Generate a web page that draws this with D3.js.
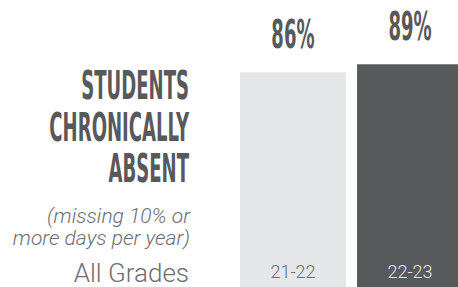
<!DOCTYPE html>
<html>
<head>
<meta charset="utf-8">
<script src="https://cdn.jsdelivr.net/npm/d3@7"></script>
<style>
	body { margin: 0; background: #fff; }
	svg { display: block; }
</style>
</head>
<body>
<script>
const years = ["21-22", "22-23"];
const absent = [86, 89];
const barColors = ["#e6e7e8", "#58595b"];
const yearColors = ["#6d6e71", "#e6e7e8"];
const titleLines = ["STUDENTS", "CHRONICALLY", "ABSENT"];
const noteLines = ["(missing 10% or", "more days per year)"];
const groupLabel = "All Grades";

const width = 458,
	height = 287;

const condensed = "'Liberation Sans Narrow', 'DejaVu Sans Condensed', sans-serif";
const squeeze = 0.515;

const svg = d3.select("body")
	.append("svg")
	.attr("width", width)
	.attr("height", height);

const x = d3.scaleBand().domain(years).range([240, 463]).paddingInner(0.095);
const y = d3.scaleLinear().domain([0, 100]).range([301, 35]);

// bars
svg.selectAll("rect.bar")
	.data(absent)
	.enter()
	.append("rect")
	.attr("class", "bar")
	.attr("x", (d, i) => x(years[i]))
	.attr("y", d => y(d))
	.attr("width", x.bandwidth())
	.attr("height", d => y(0) - y(d))
	.attr("fill", (d, i) => barColors[i]);

// value labels (condensed by squeezing horizontally)
svg.selectAll("text.value")
	.data(absent)
	.enter()
	.append("text")
	.attr("class", "value")
	.attr("transform", (d, i) => "translate(" + (x(years[i]) + x.bandwidth() / 2) + "," + (y(d) - 24) + ") scale(" + squeeze + ",1)")
	.attr("text-anchor", "middle")
	.style("font-family", condensed)
	.style("font-weight", "bold")
	.style("font-size", "39px")
	.attr("fill", "#58595b")
	.text(d => d + "%");

// year labels
svg.selectAll("text.year")
	.data(years)
	.enter()
	.append("text")
	.attr("class", "year")
	.attr("x", d => x(d) + x.bandwidth() / 2)
	.attr("y", 278)
	.attr("text-anchor", "middle")
	.style("font-family", "Roboto, sans-serif")
	.style("font-weight", 300)
	.style("font-size", "18px")
	.attr("fill", (d, i) => yearColors[i])
	.text(d => d);

// title
svg.selectAll("text.title")
	.data(titleLines)
	.enter()
	.append("text")
	.attr("class", "title")
	.attr("transform", (d, i) => "translate(189," + (99 + i * 41.5) + ") scale(" + squeeze + ",1)")
	.attr("text-anchor", "end")
	.style("font-family", condensed)
	.style("font-weight", "bold")
	.style("font-size", "39px")
	.attr("fill", "#58595b")
	.text(d => d);

svg.selectAll("text.note")
	.data(noteLines)
	.enter()
	.append("text")
	.attr("class", "note")
	.attr("x", 190)
	.attr("y", (d, i) => 223 + i * 22)
	.attr("text-anchor", "end")
	.style("font-family", "Roboto, sans-serif")
	.style("font-weight", 300)
	.style("font-style", "italic")
	.style("font-size", "21px")
	.attr("fill", "#6d6e71")
	.text(d => d);

svg.append("text")
	.attr("x", 189)
	.attr("y", 282)
	.attr("text-anchor", "end")
	.style("font-family", "Roboto, sans-serif")
	.style("font-weight", 300)
	.style("font-size", "26px")
	.attr("fill", "#6d6e71")
	.text(groupLabel);
</script>
</body>
</html>
